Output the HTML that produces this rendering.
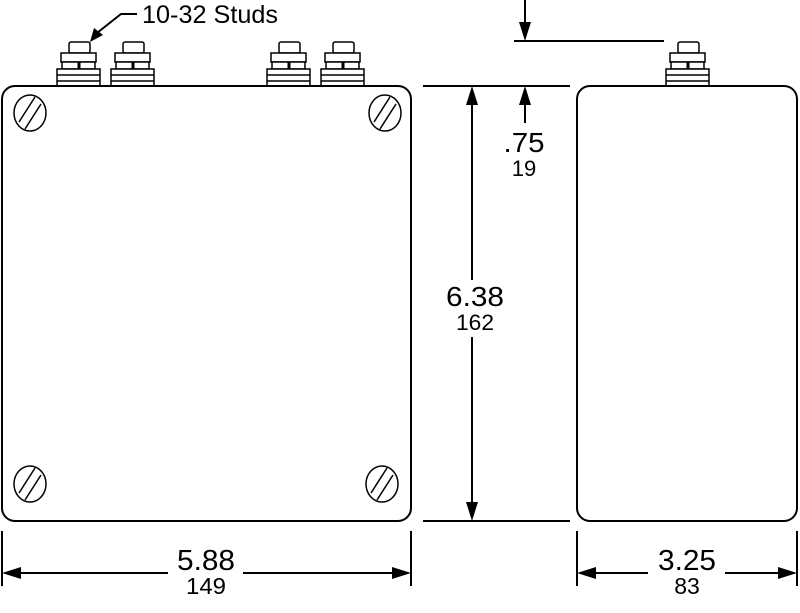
<!DOCTYPE html>
<html><head><style>body{margin:0;background:#fff}svg{display:block}</style></head><body>
<svg width="800" height="613" viewBox="0 0 800 613" xmlns="http://www.w3.org/2000/svg" font-family="Liberation Sans, sans-serif">
<defs>
<g id="stud" fill="#fff" stroke="#000" stroke-width="1.5">
<rect x="12" y="0" width="21" height="11" rx="2"/>
<rect x="4" y="11" width="35" height="9"/>
<rect x="5" y="20" width="33" height="7"/>
<line x1="22" y1="20" x2="22" y2="27" stroke-width="3"/>
<rect x="0" y="27" width="43" height="17"/>
<line x1="0" y1="33" x2="43" y2="33"/>
<line x1="0" y1="39" x2="43" y2="39"/>
</g>
<g id="screw" fill="none" stroke="#000" stroke-width="1.5">
<ellipse cx="0" cy="0" rx="16" ry="18"/>
<line x1="-11" y1="9" x2="5" y2="-16"/>
<line x1="-5" y1="16" x2="11" y2="-9"/>
</g>
</defs>
<use href="#stud" x="57" y="42"/>
<use href="#stud" x="111" y="42"/>
<use href="#stud" x="267" y="42"/>
<use href="#stud" x="321" y="42"/>
<use href="#stud" x="666" y="42"/>
<rect x="2" y="86" width="409" height="435" rx="13" fill="none" stroke="#000" stroke-width="2"/>
<rect x="577" y="86" width="220" height="435" rx="13" fill="none" stroke="#000" stroke-width="2"/>
<use href="#screw" x="30" y="113"/>
<use href="#screw" x="385" y="113"/>
<use href="#screw" x="30" y="484"/>
<use href="#screw" x="382" y="484"/>
<g stroke="#000" stroke-width="2" fill="none">
<polyline points="137,14 121,14 97,33"/>
<line x1="423" y1="86" x2="570" y2="86"/>
<line x1="514" y1="41" x2="664" y2="41"/>
<line x1="423" y1="521" x2="570" y2="521"/>
<line x1="525" y1="0" x2="525" y2="25"/>
<line x1="525" y1="100" x2="525" y2="123"/>
<line x1="472" y1="100" x2="472" y2="280"/>
<line x1="472" y1="337" x2="472" y2="507"/>
<line x1="2" y1="531" x2="2" y2="586"/>
<line x1="411" y1="531" x2="411" y2="586"/>
<line x1="577" y1="531" x2="577" y2="586"/>
<line x1="797" y1="531" x2="797" y2="586"/>
<line x1="15" y1="573" x2="168" y2="573"/>
<line x1="243" y1="573" x2="398" y2="573"/>
<line x1="590" y1="573" x2="648" y2="573"/>
<line x1="725" y1="573" x2="784" y2="573"/>
</g>
<g fill="#000">
<polygon points="90,42 94,28 103,35"/>
<polygon points="525,41 519,22 531,22"/>
<polygon points="525,86 519,105 531,105"/>
<polygon points="472,86 466,105 478,105"/>
<polygon points="472,521 466,502 478,502"/>
<polygon points="2,573 21,567 21,579"/>
<polygon points="411,573 392,567 392,579"/>
<polygon points="577,573 596,567 596,579"/>
<polygon points="797,573 778,567 778,579"/>
</g>
<g text-anchor="middle" fill="#000">
<text x="210" y="23" font-size="25" textLength="136" lengthAdjust="spacingAndGlyphs">10-32 Studs</text>
<text x="524" y="152" font-size="28" textLength="41" lengthAdjust="spacingAndGlyphs">.75</text>
<text x="524" y="176" font-size="22">19</text>
<text x="475" y="306" font-size="28" textLength="58" lengthAdjust="spacingAndGlyphs">6.38</text>
<text x="475" y="330" font-size="22" textLength="38" lengthAdjust="spacingAndGlyphs">162</text>
<text x="206" y="570" font-size="29" textLength="58" lengthAdjust="spacingAndGlyphs">5.88</text>
<text x="206" y="594" font-size="23" textLength="40" lengthAdjust="spacingAndGlyphs">149</text>
<text x="687" y="570" font-size="29" textLength="58" lengthAdjust="spacingAndGlyphs">3.25</text>
<text x="687" y="594" font-size="23">83</text>
</g>
</svg>
</body></html>
